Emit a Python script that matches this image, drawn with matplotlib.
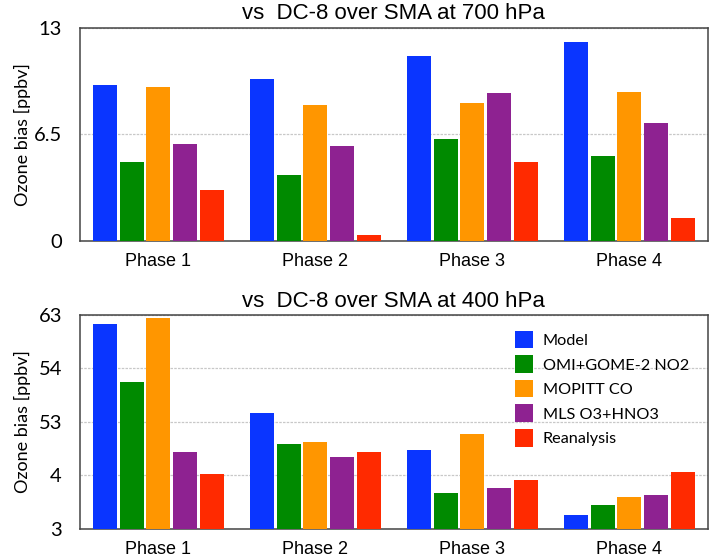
import numpy as np
import matplotlib
matplotlib.use("Agg")
import matplotlib.pyplot as plt

phases = ["Phase 1", "Phase 2", "Phase 3", "Phase 4"]
series = ["Model", "OMI+GOME-2 NO2", "MOPITT CO", "MLS O3+HNO3", "Reanalysis"]
colors = ["#0A35FF", "#008A00", "#FF9600", "#8E2291", "#FF2A00"]

# 700 hPa panel (ppbv)
model_700 = [9.5, 9.9, 11.3, 12.1]
omi_700 = [4.8, 4.0, 6.2, 5.2]
mopitt_700 = [9.4, 8.3, 8.4, 9.1]
mls_700 = [5.9, 5.8, 9.0, 7.2]
rean_700 = [3.1, 0.37, 4.8, 1.4]

# 400 hPa panel, read in axis units (tick labels are odd and evenly spaced)
yticklabels_400 = ["3", "4", "53", "54", "63"]
model_400 = [3.83, 2.17, 1.47, 0.27]
omi_400 = [2.75, 1.58, 0.68, 0.44]
mopitt_400 = [3.94, 1.63, 1.77, 0.60]
mls_400 = [1.43, 1.35, 0.76, 0.63]
rean_400 = [1.02, 1.43, 0.91, 1.07]

data_700 = [model_700, omi_700, mopitt_700, mls_700, rean_700]
data_400 = [model_400, omi_400, mopitt_400, mls_400, rean_400]

plt.rcParams['font.family'] = ['Lato', 'DejaVu Sans']

fig = plt.figure(figsize=(7.09, 5.59), dpi=100)
ax1 = fig.add_axes([0.1128, 0.569, 0.8855, 0.3815])
ax2 = fig.add_axes([0.1128, 0.0537, 0.8855, 0.3828])

x = np.arange(len(phases))
pitch = 0.1705
width = 0.153


def draw(ax, data, title):
    for i, vals in enumerate(data):
        ax.bar(x + (i - 2) * pitch, vals, width, color=colors[i], label=series[i], zorder=3)
    ax.set_xlim(-0.5, 3.5)
    ax.set_xticks(x)
    ax.set_xticklabels(phases, fontsize=13, family='Liberation Sans')
    ax.tick_params(axis='both', length=0)
    ax.tick_params(axis='y', pad=13, labelsize=14.5)
    ax.tick_params(axis='x', pad=9)
    ax.grid(axis='y', color='#c8c8c8', linestyle=(0, (2, 1)), linewidth=0.9, zorder=0)
    for s in ax.spines.values():
        s.set_color('#444444')
        s.set_linewidth(1.1)
    ax.set_title(title, fontsize=16, family='Liberation Sans', pad=6)
    ax.set_ylabel("Ozone bias [ppbv]", fontsize=13)
    ax.yaxis.set_label_coords(-0.0775, 0.5)


draw(ax1, data_700, "vs  DC-8 over SMA at 700 hPa")
ax1.set_ylim(0, 13)
ax1.set_yticks([0, 6.5, 13])
ax1.set_yticklabels(["0", "6.5", "13"])

draw(ax2, data_400, "vs  DC-8 over SMA at 400 hPa")
ax2.set_ylim(0, 4)
ax2.set_yticks(range(5))
ax2.set_yticklabels(yticklabels_400)
ax2.legend(loc='upper right', frameon=False, fontsize=11.7, handlelength=1.1,
           handleheight=1.3, handletextpad=0.6, labelspacing=0.42,
           bbox_to_anchor=(0.993, 0.995))

fig.savefig("out.png", dpi=100)
